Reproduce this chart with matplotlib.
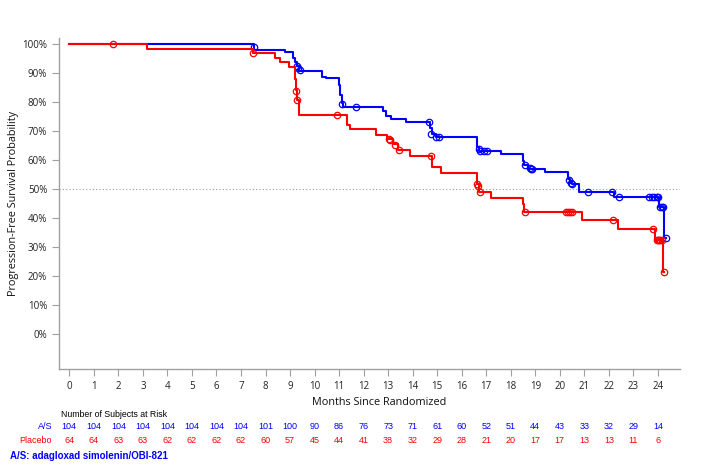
import matplotlib
matplotlib.use("Agg")
import matplotlib.pyplot as plt
import matplotlib.transforms as mtransforms

# Kaplan-Meier step data (months, survival %)
as_times = [0, 7.55, 8.79, 9.13, 9.2, 9.27, 9.38, 10.32, 10.45, 11.0, 11.05, 11.1, 11.15,
            12.8, 12.93, 13.1, 13.74, 14.7, 14.78, 14.95, 16.62, 16.72, 17.61, 18.49, 18.55,
            18.7, 19.4, 20.33, 20.4, 20.5, 20.77, 22.2, 24.05, 24.24, 24.33]
as_surv = [100, 98.1, 97.2, 95.3, 93.9, 92.4, 90.8, 88.7, 88.2, 85.9, 82.4, 79.6, 78.4,
           76.8, 75.3, 74.0, 73.0, 71.0, 69.0, 67.9, 64.6, 63.1, 62.0, 59.5, 58.3,
           57.0, 56.0, 53.5, 52.2, 51.6, 48.9, 47.2, 43.9, 33.0, 33.0]
as_cens_t = [7.52, 9.28, 9.32, 9.4, 11.13, 11.67, 14.66, 14.76, 14.97, 15.07, 16.69, 16.73,
             16.89, 17.03, 18.56, 18.77, 18.83, 18.88, 20.37, 20.44, 20.5, 21.14, 22.13,
             22.4, 23.65, 23.75, 23.85, 23.95, 24.0, 24.1, 24.15, 24.2, 24.33]
as_cens_s = [99.0, 92.4, 91.6, 91.0, 79.2, 78.4, 73.2, 69.0, 68.0, 67.8, 63.8, 63.1,
             63.1, 63.1, 58.3, 57.1, 57.0, 57.0, 53.1, 52.0, 51.6, 48.9, 48.9,
             47.2, 47.2, 47.2, 47.2, 47.2, 47.2, 43.9, 43.9, 43.9, 33.0]

pl_times = [0, 3.15, 7.47, 8.38, 8.61, 8.96, 9.2, 9.24, 9.28, 9.35, 11.33, 11.43, 12.52,
            12.95, 13.2, 13.4, 13.88, 14.8, 15.17, 16.62, 16.72, 17.18, 18.49, 18.55,
            20.91, 22.36, 23.9, 24.22, 24.26]
pl_surv = [100, 98.4, 96.8, 95.3, 93.7, 92.0, 88.0, 84.0, 80.7, 75.5, 72.1, 70.6, 68.6,
           67.2, 65.4, 63.4, 61.4, 57.7, 55.5, 51.6, 49.0, 46.8, 44.7, 42.2,
           39.3, 36.1, 32.4, 21.5, 21.5]
pl_cens_t = [1.79, 7.5, 9.26, 9.29, 10.93, 13.03, 13.06, 13.27, 13.44, 14.73, 16.62, 16.67,
             16.76, 18.57, 20.26, 20.34, 20.42, 20.5, 22.16, 23.79, 23.95, 24.0, 24.05,
             24.1, 24.15, 24.26]
pl_cens_s = [100, 96.8, 83.9, 80.7, 75.5, 67.2, 66.8, 65.2, 63.4, 61.4, 51.6, 51.1,
             49.0, 42.2, 42.2, 42.2, 42.2, 42.2, 39.3, 36.1, 32.4, 32.4, 32.4,
             32.4, 32.4, 21.5]

risk_months = list(range(0, 25))
as_risk = [104, 104, 104, 104, 104, 104, 104, 104, 101, 100, 90, 86, 76, 73, 71, 61, 60,
           52, 51, 44, 43, 33, 32, 29, 14]
pl_risk = [64, 64, 63, 63, 62, 62, 62, 62, 60, 57, 45, 44, 41, 38, 32, 29, 28,
           21, 20, 17, 17, 13, 13, 11, 6]

BLUE = "#0000ff"
RED = "#ff0000"
GREY = "#a0a0a0"
axfont = ["Open Sans", "DejaVu Sans"]
tabfont = ["Liberation Sans", "DejaVu Sans"]

fig = plt.figure(figsize=(7.03, 4.69), dpi=100)
ax = fig.add_axes([59 / 703, 100 / 469, 621 / 703, 331 / 469])

ax.axhline(50, color="#999999", lw=0.8, ls=(0, (1, 2)), zorder=1)

ax.step(pl_times, pl_surv, where="post", color=RED, lw=1.5, zorder=3)
ax.plot(pl_cens_t, pl_cens_s, ls="none", marker="o", ms=4.6, mfc="none",
        mec=RED, mew=0.9, zorder=4)
ax.step(as_times, as_surv, where="post", color=BLUE, lw=1.5, zorder=2)
ax.plot(as_cens_t, as_cens_s, ls="none", marker="o", ms=4.6, mfc="none",
        mec=BLUE, mew=0.9, zorder=2)

ax.set_xlim(-0.42, 24.9)
ax.set_ylim(-12.1, 102.1)
ax.set_xticks(range(0, 25))
ax.set_yticks(range(0, 101, 10))
ax.set_yticklabels(["%d%%" % v for v in range(0, 101, 10)])

for s in ["top", "right"]:
    ax.spines[s].set_visible(False)
for s in ["left", "bottom"]:
    ax.spines[s].set_color(GREY)
    ax.spines[s].set_linewidth(1.0)
ax.tick_params(axis="both", colors=GREY, length=5, width=0.8, direction="out")
for lbl in ax.get_xticklabels() + ax.get_yticklabels():
    lbl.set_color("#222222")
    lbl.set_fontfamily(axfont)
    lbl.set_fontsize(7)

ax.set_xlabel("Months Since Randomized", fontsize=7.8, family=axfont,
              color="#111111")
ax.set_ylabel("Progression-Free Survival Probability", fontsize=7.8,
              family=axfont, color="#111111")
ax.xaxis.set_label_coords(0.515, -0.085)
ax.yaxis.set_label_coords(-0.064, 0.5)

# risk table below the axis
trans = mtransforms.blended_transform_factory(ax.transData, fig.transFigure)
fig.text(61 / 703, 1 - 414 / 469, "Number of Subjects at Risk", fontsize=6.3,
         family=tabfont, color="black", va="center", ha="left")
fig.text(52 / 703, 1 - 426 / 469, "A/S", fontsize=6.5, family=tabfont,
         color=BLUE, va="center", ha="right")
fig.text(52 / 703, 1 - 440 / 469, "Placebo", fontsize=6.5, family=tabfont,
         color=RED, va="center", ha="right")
for m, a, p in zip(risk_months, as_risk, pl_risk):
    ax.text(m, 1 - 426 / 469, str(a), transform=trans, fontsize=6.5,
            family=tabfont, color=BLUE, ha="center", va="center")
    ax.text(m, 1 - 440 / 469, str(p), transform=trans, fontsize=6.5,
            family=tabfont, color=RED, ha="center", va="center")
fig.text(10 / 703, 1 - 456 / 469, "A/S: adagloxad simolenin/OBI-821", fontsize=7,
         family=tabfont, weight="bold", color=BLUE, va="center", ha="left")

fig.savefig("out.png", dpi=100)
